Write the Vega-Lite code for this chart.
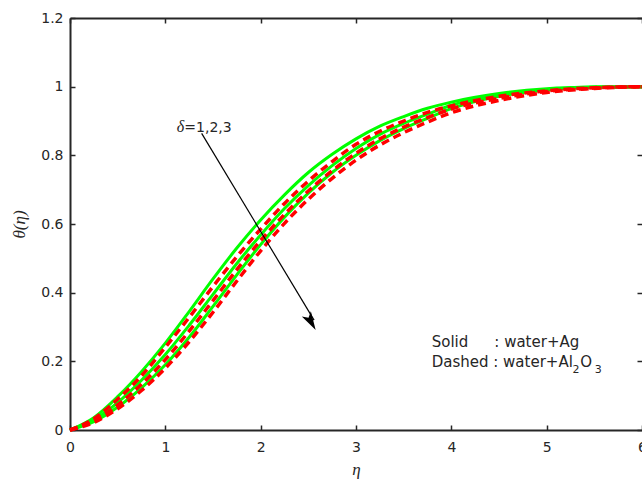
{
  "$schema": "https://vega.github.io/schema/vega-lite/v6.json",
  "width": 572,
  "height": 412,
  "autosize": {"type": "none"},
  "padding": {"left": 70, "top": 18, "right": 0, "bottom": 51},
  "background": "white",
  "config": {
    "view": {"stroke": null},
    "axis": {
      "domainColor": "#262626", "domainWidth": 2,
      "tickColor": "#262626", "tickWidth": 1.5, "tickSize": -5,
      "labelFont": "DejaVu Sans", "labelFontSize": 14, "labelColor": "#262626",
      "labelFlush": false, "grid": false, "labelPadding": 12
    }
  },
  "datasets": {
    "curves": [
      {"eta":0,"theta":0,"fluid":"Ag","delta":1},{"eta":0.25,"theta":0.036,"fluid":"Ag","delta":1},{"eta":0.5,"theta":0.097,"fluid":"Ag","delta":1},{"eta":0.75,"theta":0.17,"fluid":"Ag","delta":1},{"eta":1,"theta":0.253,"fluid":"Ag","delta":1},{"eta":1.25,"theta":0.345,"fluid":"Ag","delta":1},{"eta":1.5,"theta":0.44,"fluid":"Ag","delta":1},{"eta":1.75,"theta":0.53,"fluid":"Ag","delta":1},{"eta":2,"theta":0.612,"fluid":"Ag","delta":1},{"eta":2.25,"theta":0.685,"fluid":"Ag","delta":1},{"eta":2.5,"theta":0.75,"fluid":"Ag","delta":1},{"eta":2.75,"theta":0.803,"fluid":"Ag","delta":1},{"eta":3,"theta":0.848,"fluid":"Ag","delta":1},{"eta":3.25,"theta":0.885,"fluid":"Ag","delta":1},{"eta":3.5,"theta":0.913,"fluid":"Ag","delta":1},{"eta":3.75,"theta":0.937,"fluid":"Ag","delta":1},{"eta":4,"theta":0.955,"fluid":"Ag","delta":1},{"eta":4.5,"theta":0.98,"fluid":"Ag","delta":1},{"eta":5,"theta":0.994,"fluid":"Ag","delta":1},{"eta":5.5,"theta":0.999,"fluid":"Ag","delta":1},{"eta":6,"theta":1.0,"fluid":"Ag","delta":1},
      {"eta":0,"theta":0,"fluid":"Ag","delta":2},{"eta":0.25,"theta":0.03,"fluid":"Ag","delta":2},{"eta":0.5,"theta":0.08,"fluid":"Ag","delta":2},{"eta":0.75,"theta":0.145,"fluid":"Ag","delta":2},{"eta":1,"theta":0.22,"fluid":"Ag","delta":2},{"eta":1.25,"theta":0.305,"fluid":"Ag","delta":2},{"eta":1.5,"theta":0.395,"fluid":"Ag","delta":2},{"eta":1.75,"theta":0.485,"fluid":"Ag","delta":2},{"eta":2,"theta":0.568,"fluid":"Ag","delta":2},{"eta":2.25,"theta":0.645,"fluid":"Ag","delta":2},{"eta":2.5,"theta":0.712,"fluid":"Ag","delta":2},{"eta":2.75,"theta":0.77,"fluid":"Ag","delta":2},{"eta":3,"theta":0.82,"fluid":"Ag","delta":2},{"eta":3.25,"theta":0.861,"fluid":"Ag","delta":2},{"eta":3.5,"theta":0.893,"fluid":"Ag","delta":2},{"eta":3.75,"theta":0.92,"fluid":"Ag","delta":2},{"eta":4,"theta":0.946,"fluid":"Ag","delta":2},{"eta":4.5,"theta":0.976,"fluid":"Ag","delta":2},{"eta":5,"theta":0.992,"fluid":"Ag","delta":2},{"eta":5.5,"theta":0.999,"fluid":"Ag","delta":2},{"eta":6,"theta":1.0,"fluid":"Ag","delta":2},
      {"eta":0,"theta":0,"fluid":"Ag","delta":3},{"eta":0.25,"theta":0.024,"fluid":"Ag","delta":3},{"eta":0.5,"theta":0.067,"fluid":"Ag","delta":3},{"eta":0.75,"theta":0.123,"fluid":"Ag","delta":3},{"eta":1,"theta":0.19,"fluid":"Ag","delta":3},{"eta":1.25,"theta":0.27,"fluid":"Ag","delta":3},{"eta":1.5,"theta":0.36,"fluid":"Ag","delta":3},{"eta":1.75,"theta":0.452,"fluid":"Ag","delta":3},{"eta":2,"theta":0.54,"fluid":"Ag","delta":3},{"eta":2.25,"theta":0.62,"fluid":"Ag","delta":3},{"eta":2.5,"theta":0.69,"fluid":"Ag","delta":3},{"eta":2.75,"theta":0.75,"fluid":"Ag","delta":3},{"eta":3,"theta":0.8,"fluid":"Ag","delta":3},{"eta":3.25,"theta":0.843,"fluid":"Ag","delta":3},{"eta":3.5,"theta":0.878,"fluid":"Ag","delta":3},{"eta":3.75,"theta":0.908,"fluid":"Ag","delta":3},{"eta":4,"theta":0.936,"fluid":"Ag","delta":3},{"eta":4.5,"theta":0.972,"fluid":"Ag","delta":3},{"eta":5,"theta":0.99,"fluid":"Ag","delta":3},{"eta":5.5,"theta":0.998,"fluid":"Ag","delta":3},{"eta":6,"theta":1.0,"fluid":"Ag","delta":3},
      {"eta":0,"theta":0,"fluid":"Al2O3","delta":1},{"eta":0.25,"theta":0.033,"fluid":"Al2O3","delta":1},{"eta":0.5,"theta":0.09,"fluid":"Al2O3","delta":1},{"eta":0.75,"theta":0.158,"fluid":"Al2O3","delta":1},{"eta":1,"theta":0.241,"fluid":"Al2O3","delta":1},{"eta":1.25,"theta":0.328,"fluid":"Al2O3","delta":1},{"eta":1.5,"theta":0.418,"fluid":"Al2O3","delta":1},{"eta":1.75,"theta":0.505,"fluid":"Al2O3","delta":1},{"eta":2,"theta":0.585,"fluid":"Al2O3","delta":1},{"eta":2.25,"theta":0.66,"fluid":"Al2O3","delta":1},{"eta":2.5,"theta":0.725,"fluid":"Al2O3","delta":1},{"eta":2.75,"theta":0.782,"fluid":"Al2O3","delta":1},{"eta":3,"theta":0.832,"fluid":"Al2O3","delta":1},{"eta":3.25,"theta":0.87,"fluid":"Al2O3","delta":1},{"eta":3.5,"theta":0.9,"fluid":"Al2O3","delta":1},{"eta":3.75,"theta":0.925,"fluid":"Al2O3","delta":1},{"eta":4,"theta":0.944,"fluid":"Al2O3","delta":1},{"eta":4.5,"theta":0.972,"fluid":"Al2O3","delta":1},{"eta":5,"theta":0.988,"fluid":"Al2O3","delta":1},{"eta":5.5,"theta":0.997,"fluid":"Al2O3","delta":1},{"eta":6,"theta":1.0,"fluid":"Al2O3","delta":1},
      {"eta":0,"theta":0,"fluid":"Al2O3","delta":2},{"eta":0.25,"theta":0.027,"fluid":"Al2O3","delta":2},{"eta":0.5,"theta":0.073,"fluid":"Al2O3","delta":2},{"eta":0.75,"theta":0.133,"fluid":"Al2O3","delta":2},{"eta":1,"theta":0.205,"fluid":"Al2O3","delta":2},{"eta":1.25,"theta":0.288,"fluid":"Al2O3","delta":2},{"eta":1.5,"theta":0.377,"fluid":"Al2O3","delta":2},{"eta":1.75,"theta":0.467,"fluid":"Al2O3","delta":2},{"eta":2,"theta":0.552,"fluid":"Al2O3","delta":2},{"eta":2.25,"theta":0.628,"fluid":"Al2O3","delta":2},{"eta":2.5,"theta":0.696,"fluid":"Al2O3","delta":2},{"eta":2.75,"theta":0.755,"fluid":"Al2O3","delta":2},{"eta":3,"theta":0.806,"fluid":"Al2O3","delta":2},{"eta":3.25,"theta":0.848,"fluid":"Al2O3","delta":2},{"eta":3.5,"theta":0.882,"fluid":"Al2O3","delta":2},{"eta":3.75,"theta":0.91,"fluid":"Al2O3","delta":2},{"eta":4,"theta":0.935,"fluid":"Al2O3","delta":2},{"eta":4.5,"theta":0.966,"fluid":"Al2O3","delta":2},{"eta":5,"theta":0.986,"fluid":"Al2O3","delta":2},{"eta":5.5,"theta":0.996,"fluid":"Al2O3","delta":2},{"eta":6,"theta":1.0,"fluid":"Al2O3","delta":2},
      {"eta":0,"theta":0,"fluid":"Al2O3","delta":3},{"eta":0.25,"theta":0.022,"fluid":"Al2O3","delta":3},{"eta":0.5,"theta":0.062,"fluid":"Al2O3","delta":3},{"eta":0.75,"theta":0.115,"fluid":"Al2O3","delta":3},{"eta":1,"theta":0.18,"fluid":"Al2O3","delta":3},{"eta":1.25,"theta":0.257,"fluid":"Al2O3","delta":3},{"eta":1.5,"theta":0.343,"fluid":"Al2O3","delta":3},{"eta":1.75,"theta":0.434,"fluid":"Al2O3","delta":3},{"eta":2,"theta":0.522,"fluid":"Al2O3","delta":3},{"eta":2.25,"theta":0.602,"fluid":"Al2O3","delta":3},{"eta":2.5,"theta":0.672,"fluid":"Al2O3","delta":3},{"eta":2.75,"theta":0.733,"fluid":"Al2O3","delta":3},{"eta":3,"theta":0.786,"fluid":"Al2O3","delta":3},{"eta":3.25,"theta":0.83,"fluid":"Al2O3","delta":3},{"eta":3.5,"theta":0.866,"fluid":"Al2O3","delta":3},{"eta":3.75,"theta":0.897,"fluid":"Al2O3","delta":3},{"eta":4,"theta":0.924,"fluid":"Al2O3","delta":3},{"eta":4.5,"theta":0.96,"fluid":"Al2O3","delta":3},{"eta":5,"theta":0.983,"fluid":"Al2O3","delta":3},{"eta":5.5,"theta":0.995,"fluid":"Al2O3","delta":3},{"eta":6,"theta":1.0,"fluid":"Al2O3","delta":3}
    ]
  },
  "layer": [
    {
      "layer": [
        {
          "data": {"name": "curves"},
          "transform": [{"filter": "datum.fluid === 'Ag'"}],
          "mark": {"type": "line", "color": "#00ff00", "strokeWidth": 3, "interpolate": "monotone"},
          "encoding": {
            "x": {"field": "eta", "type": "quantitative", "scale": {"domain": [0, 6], "nice": false},
              "axis": {"values": [0,1,2,3,4,5,6], "format": "d", "labelPadding": 15, "title": "η", "titleFont": "Liberation Serif", "titleFontStyle": "italic", "titleFontWeight": "normal", "titleFontSize": 17, "titleColor": "#262626", "titleY": 39, "titleBaseline": "middle"}},
            "y": {"field": "theta", "type": "quantitative", "scale": {"domain": [0, 1.2], "nice": false},
              "axis": {"values": [0,0.2,0.4,0.6,0.8,1,1.2], "format": ".1~f", "title": "θ(η)", "titleFont": "Liberation Serif", "titleFontStyle": "italic", "titleFontWeight": "normal", "titleFontSize": 17, "titleColor": "#262626", "titleX": -51, "titleY": 206, "titleAngle": -90, "titleAlign": "center", "titleBaseline": "middle"}},
            "detail": {"field": "delta", "type": "nominal"}
          }
        },
        {
          "data": {"name": "curves"},
          "transform": [{"filter": "datum.fluid === 'Al2O3'"}],
          "mark": {"type": "line", "color": "#ff0000", "strokeWidth": 3.5, "strokeDash": [8, 5], "interpolate": "monotone"},
          "encoding": {
            "x": {"field": "eta", "type": "quantitative"},
            "y": {"field": "theta", "type": "quantitative"},
            "detail": {"field": "delta", "type": "nominal"}
          }
        },
        {
          "data": {"values": [{}]},
          "mark": {"type": "rule", "color": "black", "strokeWidth": 1.2},
          "encoding": {
            "x": {"datum": 1.381, "type": "quantitative"},
            "y": {"datum": 0.864, "type": "quantitative"},
            "x2": {"datum": 2.56},
            "y2": {"datum": 0.32}
          }
        },
        {
          "data": {"values": [{}]},
          "mark": {"type": "point", "shape": "M0,0 L-0.42,1.5 L0,1.15 L0.42,1.5 Z", "filled": true, "color": "black", "opacity": 1, "size": 620, "angle": 150, "strokeWidth": 0},
          "encoding": {
            "x": {"datum": 2.577, "type": "quantitative"},
            "y": {"datum": 0.291, "type": "quantitative"}
          }
        },
        {
          "data": {"values": [{}]},
          "mark": {"type": "text", "text": "δ", "font": "Liberation Serif", "fontStyle": "italic", "fontSize": 16, "align": "left", "baseline": "alphabetic", "color": "#262626"},
          "encoding": {"x": {"datum": 1.119, "type": "quantitative"}, "y": {"datum": 0.869, "type": "quantitative"}}
        },
        {
          "data": {"values": [{}]},
          "mark": {"type": "text", "text": "=1,2,3", "font": "DejaVu Sans", "fontSize": 14, "align": "left", "baseline": "alphabetic", "color": "#262626"},
          "encoding": {"x": {"datum": 1.199, "type": "quantitative"}, "y": {"datum": 0.869, "type": "quantitative"}}
        },
        {
          "data": {"values": [{}]},
          "mark": {"type": "text", "text": "Solid", "font": "DejaVu Sans", "fontSize": 15, "align": "left", "baseline": "alphabetic", "color": "#262626"},
          "encoding": {"x": {"datum": 3.794, "type": "quantitative"}, "y": {"datum": 0.241, "type": "quantitative"}}
        },
        {
          "data": {"values": [{}]},
          "mark": {"type": "text", "text": ": water+Ag", "font": "DejaVu Sans", "fontSize": 15, "align": "left", "baseline": "alphabetic", "color": "#262626"},
          "encoding": {"x": {"datum": 4.451, "type": "quantitative"}, "y": {"datum": 0.241, "type": "quantitative"}}
        },
        {
          "data": {"values": [{}]},
          "mark": {"type": "text", "text": "Dashed : water+Al", "font": "DejaVu Sans", "fontSize": 15, "align": "left", "baseline": "alphabetic", "color": "#262626"},
          "encoding": {"x": {"datum": 3.794, "type": "quantitative"}, "y": {"datum": 0.183, "type": "quantitative"}}
        },
        {
          "data": {"values": [{}]},
          "mark": {"type": "text", "text": "2", "font": "DejaVu Sans", "fontSize": 11, "align": "left", "baseline": "alphabetic", "color": "#262626"},
          "encoding": {"x": {"datum": 5.271, "type": "quantitative"}, "y": {"datum": 0.166, "type": "quantitative"}}
        },
        {
          "data": {"values": [{}]},
          "mark": {"type": "text", "text": "O", "font": "DejaVu Sans", "fontSize": 15, "align": "left", "baseline": "alphabetic", "color": "#262626"},
          "encoding": {"x": {"datum": 5.352, "type": "quantitative"}, "y": {"datum": 0.183, "type": "quantitative"}}
        },
        {
          "data": {"values": [{}]},
          "mark": {"type": "text", "text": "3", "font": "DejaVu Sans", "fontSize": 11, "align": "left", "baseline": "alphabetic", "color": "#262626"},
          "encoding": {"x": {"datum": 5.505, "type": "quantitative"}, "y": {"datum": 0.166, "type": "quantitative"}}
        }
      ]
    },
    {
      "data": {"name": "curves"},
      "mark": {"type": "point", "opacity": 0},
      "encoding": {
        "x": {"field": "eta", "type": "quantitative", "axis": {"orient": "top", "labels": false, "title": null, "values": [0,1,2,3,4,5,6]}},
        "y": {"field": "theta", "type": "quantitative", "axis": {"orient": "right", "labels": false, "title": null, "domain": false, "values": [0,0.2,0.4,0.6,0.8,1,1.2]}}
      }
    }
  ],
  "resolve": {"axis": {"x": "independent", "y": "independent"}}
}
